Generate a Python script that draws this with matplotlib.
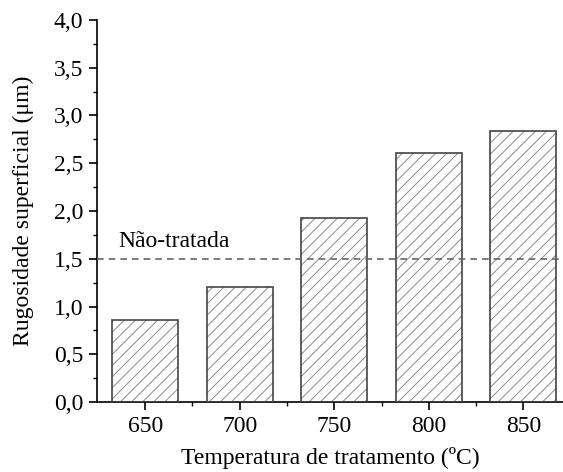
import matplotlib
matplotlib.use("Agg")
import matplotlib.pyplot as plt
from matplotlib.ticker import FuncFormatter, MultipleLocator, FixedLocator

temperatures = ["650", "700", "750", "800", "850"]
roughness = [0.86, 1.20, 1.93, 2.61, 2.84]
untreated = 1.5

plt.rcParams['font.family'] = ['Liberation Serif', 'DejaVu Serif']
plt.rcParams['hatch.linewidth'] = 0.7

fig = plt.figure(figsize=(5.63, 4.72), dpi=100)
ax = fig.add_axes([0.1723, 0.148, 0.8277, 0.81])

x = list(range(len(temperatures)))
# hatch drawn in light gray, outline drawn separately in darker gray
ax.bar(x, roughness, width=0.7, color='white', edgecolor='#8a8a8a',
       hatch='///', linewidth=0, zorder=2)
ax.bar(x, roughness, width=0.7, color='none', edgecolor='#444444',
       linewidth=1.2, zorder=3)

ax.axhline(untreated, color='#666666', linestyle=(0, (4, 3)), linewidth=1.2, zorder=4)
ax.text(-0.28, untreated + 0.07, 'Não-tratada', fontsize=17, ha='left', va='bottom')

ax.set_xlim(-0.51, 4.42)
ax.set_ylim(0, 4.0)
ax.set_xticks(x)
ax.set_xticklabels(temperatures)
ax.xaxis.set_minor_locator(FixedLocator([i + 0.5 for i in x[:-1]]))
ax.yaxis.set_major_locator(MultipleLocator(0.5))
ax.yaxis.set_minor_locator(MultipleLocator(0.25))
ax.yaxis.set_major_formatter(FuncFormatter(lambda v, p: f'{v:.1f}'.replace('.', ',')))

ax.spines['top'].set_visible(False)
ax.spines['right'].set_visible(False)
for s in ('left', 'bottom'):
    ax.spines[s].set_linewidth(1.2)
ax.tick_params(which='major', direction='out', length=6, width=1.2, labelsize=17, pad=4)
ax.tick_params(which='minor', direction='out', length=3, width=1.0)

ax.set_xlabel('Temperatura de tratamento (ºC)', fontsize=17, labelpad=7)
ax.set_ylabel('Rugosidade superficial (μm)', fontsize=17, labelpad=14)

fig.savefig('out.png', dpi=100)
